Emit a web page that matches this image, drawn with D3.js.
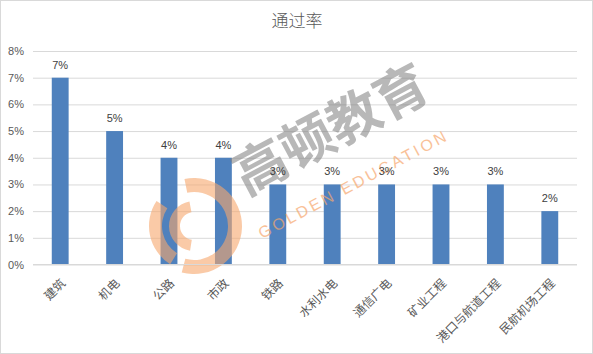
<!DOCTYPE html>
<html><head><meta charset="utf-8">
<script src="https://cdn.jsdelivr.net/npm/d3@7"></script>
<style>body{margin:0;background:#fff}svg{display:block}</style>
</head><body>
<script>
const categories = ["建筑","机电","公路","市政","铁路","水利水电","通信广电","矿业工程","港口与航道工程","民航机场工程"];
const values = [0.07,0.05,0.04,0.04,0.03,0.03,0.03,0.03,0.03,0.02];
const yTicks = [0,0.01,0.02,0.03,0.04,0.05,0.06,0.07,0.08];
const title = "通过率";

const W=593,H=354;
const svg=d3.select("body").append("svg").attr("width",W).attr("height",H);
svg.append("rect").attr("x",0.5).attr("y",0.5).attr("width",W-1).attr("height",H-1).attr("fill","#fff").attr("stroke","#d9d9d9");

const x=d3.scaleBand().domain(categories).range([33,577]).paddingInner(0.69).paddingOuter(0.345);
const y=d3.scaleLinear().domain([0,0.08]).range([264.5,51]);
const font="'Noto Sans CJK SC','Microsoft YaHei',sans-serif";

svg.append("text").attr("x",297).attr("y",27).attr("text-anchor","middle").attr("font-family",font)
  .attr("font-size",17).attr("font-weight",300).attr("fill","#595959").text(title);

// gridlines
const yAxis=d3.axisLeft(y).tickValues(yTicks).tickFormat(d3.format(".0%")).tickSize(-(577-33)).tickPadding(9);
const gy=svg.append("g").attr("transform","translate(33,0)").call(yAxis);
gy.select(".domain").remove();
gy.selectAll(".tick line").attr("stroke","#d9d9d9").attr("stroke-width",1);
gy.selectAll(".tick text").attr("font-family","'Liberation Sans',Arial,sans-serif").attr("font-size",11).attr("fill","#595959");

// bars
svg.append("g").selectAll("rect").data(values).join("rect")
  .attr("x",(d,i)=>x(categories[i])).attr("width",x.bandwidth())
  .attr("y",d=>y(d)).attr("height",d=>y(0)-y(d)).attr("fill","#4f81bd");

// watermark
const wm=svg.append("g").attr("pointer-events","none");
const logo=wm.append("g").attr("transform","translate(194,226)").attr("opacity",0.6);
logo.append("path").attr("d",d3.arc()({innerRadius:34,outerRadius:48,startAngle:-0.2,endAngle:3.4})).attr("fill","#f7a86e");
logo.append("path").attr("d",d3.arc()({innerRadius:14,outerRadius:25,startAngle:3.3,endAngle:6.1})).attr("fill","#f7a86e");
logo.append("path").attr("d",d3.arc()({innerRadius:32,outerRadius:45,startAngle:3.7,endAngle:5.3})).attr("fill","#f7a86e");
wm.append("text").attr("transform","translate(246,196) rotate(-28)").attr("font-family",font).attr("font-size",53)
  .attr("font-weight",700).attr("fill","#7f7f7f").attr("opacity",0.55).text("高顿教育");
wm.append("text").attr("transform","translate(262,239) rotate(-28)").attr("font-family","'Liberation Sans',sans-serif").attr("font-size",16)
  .attr("letter-spacing",3).attr("fill","#f7a86e").attr("opacity",0.7).text("GOLDEN EDUCATION");

// axis line
svg.append("line").attr("x1",33).attr("x2",577).attr("y1",264.5).attr("y2",264.5).attr("stroke","#d9d9d9");

// data labels
svg.append("g").selectAll("text").data(values).join("text")
  .attr("x",(d,i)=>x(categories[i])+x.bandwidth()/2).attr("y",d=>y(d)-9)
  .attr("text-anchor","middle").attr("font-family","'Liberation Sans',Arial,sans-serif").attr("font-size",11).attr("fill","#404040")
  .text(d=>d3.format(".0%")(d));

// x labels
svg.append("g").selectAll("text").data(categories).join("text")
  .attr("transform",d=>`translate(${x(d)+x.bandwidth()/2+3},281) rotate(-45)`)
  .attr("text-anchor","end").attr("dy","0.35em").attr("font-family",font).attr("font-size",12).attr("fill","#595959").text(d=>d);
</script>
</body></html>
